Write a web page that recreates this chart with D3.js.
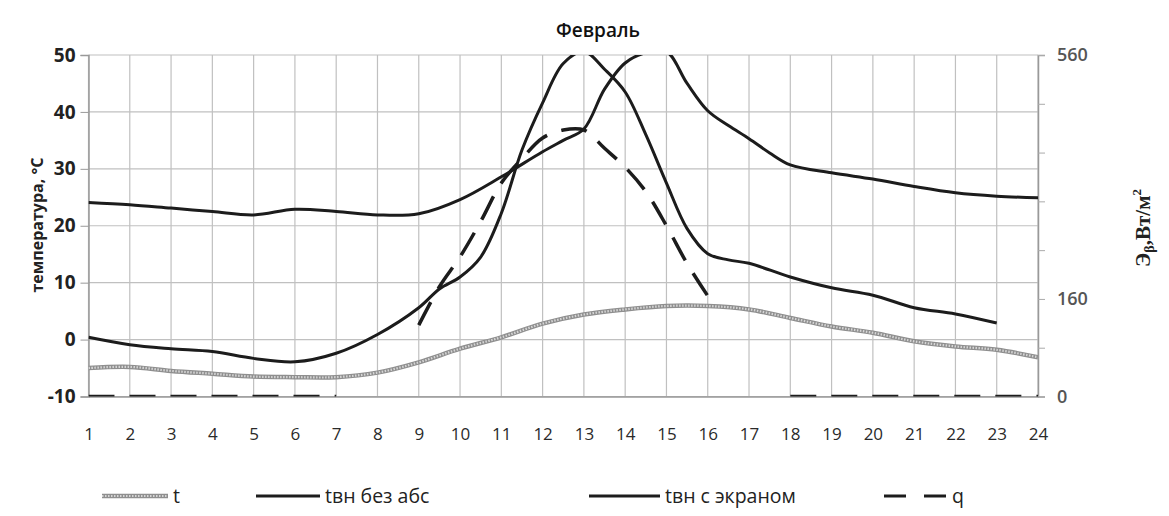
<!DOCTYPE html>
<html>
<head>
<meta charset="utf-8">
<script src="https://cdn.jsdelivr.net/npm/d3@7/dist/d3.min.js"></script>
<style>
  body { margin: 0; background: #fff; }
  svg { display: block; }
</style>
</head>
<body>
<script>
// hours of the day (x axis)
var hours = d3.range(1, 25);
var tempTicks = [-10, 0, 10, 20, 30, 40, 50];
var qTicks = [0, 80, 160, 240, 320, 400, 480, 560];
var qTickLabels = [0, 160, 560];

// outdoor temperature t, one value per hour
var tValues = [-5.0, -4.8, -5.5, -6.0, -6.5, -6.6, -6.6, -5.8, -4.0, -1.6, 0.4, 2.8,
               4.4, 5.3, 5.9, 5.9, 5.3, 3.8, 2.3, 1.2, -0.3, -1.2, -1.8, -3.1];

// tвн без абс (read at half hours where the curve is steep)
var bezAbsHours  = [1, 2, 3, 4, 5, 6, 7, 8, 9, 9.5, 10, 10.5, 11, 11.5, 12, 12.5, 13, 13.5,
                    14, 14.5, 15, 15.5, 16, 16.5, 17, 18, 19, 20, 21, 22, 23];
var bezAbsValues = [0.4, -0.9, -1.6, -2.1, -3.3, -3.9, -2.4, 0.9, 5.6, 8.9, 11.0, 14.5, 22.2, 33.3,
                    41.6, 48.5, 50.6, 47.5, 43.5, 36.0, 27.5, 19.5, 15.1, 14.0, 13.4, 11.0, 9.1,
                    7.8, 5.6, 4.5, 2.9];

// tвн с экраном
var ekranHours  = [1, 2, 3, 4, 5, 6, 7, 8, 9, 10, 11, 12, 12.5, 13, 13.5, 14, 14.5, 15, 15.5,
                   16, 16.5, 17, 17.5, 18, 19, 20, 21, 22, 23, 24];
var ekranValues = [24.1, 23.7, 23.1, 22.5, 21.9, 22.9, 22.5, 21.9, 22.1, 24.6, 28.6, 33.0, 35.0,
                   37.0, 44.0, 48.6, 50.4, 50.6, 45.0, 40.2, 37.6, 35.3, 32.8, 30.7, 29.3, 28.2,
                   26.9, 25.8, 25.2, 24.9];

// q, W/m2 (right axis); null = no data
var qHours  = [1, 2, 3, 4, 5, 6, 7, 8, 9, 9.5, 10, 10.5, 11, 11.5, 12, 12.5, 13, 13.5, 14,
               14.5, 15, 15.5, 16, 17, 18, 19, 20, 21, 22, 23, 24];
var qValues = [0, 0, 0, 0, 0, 0, 0, null, 117, 180, 229, 287, 350, 390, 424, 437, 437, 407, 376,
               336, 280, 218, 165, null, 0, 0, 0, 0, 0, 0, 0];

var margin = {top: 55, left: 88.5},
    width = 1038 - margin.left,
    height = 396.5 - margin.top;

var svg = d3.select("body").append("svg")
    .attr("width", 1169)
    .attr("height", 516);

var g = svg.append("g")
    .attr("transform", "translate(" + margin.left + "," + margin.top + ")");

var x = d3.scaleLinear().domain([1, 24]).range([0, width]);
var y = d3.scaleLinear().domain([-10, 50]).range([height, 0]);
var yq = d3.scaleLinear().domain([0, 560]).range([height, 0]);

var font = "'Open Sans', 'Noto Sans', sans-serif";

// grid
g.append("g")
    .selectAll("line.h")
    .data(tempTicks)
    .join("line")
    .attr("x1", 0).attr("x2", width)
    .attr("y1", function(d) { return y(d); })
    .attr("y2", function(d) { return y(d); })
    .attr("stroke", "#c0c0c0").attr("stroke-width", 1.2);

g.append("g")
    .selectAll("line.v")
    .data(hours)
    .join("line")
    .attr("x1", function(d) { return x(d); })
    .attr("x2", function(d) { return x(d); })
    .attr("y1", 0).attr("y2", height)
    .attr("stroke", "#c0c0c0").attr("stroke-width", 1.2);

// left axis
var yAxis = g.append("g")
    .call(d3.axisLeft(y).tickValues(tempTicks).tickSize(8).tickPadding(5)
        .tickFormat(function(d) { return String(d); }));
yAxis.select(".domain").attr("stroke", "#999").attr("stroke-width", 1.5);
yAxis.selectAll(".tick line").attr("stroke", "#999");
yAxis.selectAll("text")
    .attr("font-family", font).attr("font-size", 19).attr("font-weight", 700).attr("fill", "#222");

// right axis
var qAxis = g.append("g")
    .attr("transform", "translate(" + width + ",0)")
    .call(d3.axisRight(yq).tickValues(qTicks).tickSize(7).tickPadding(12)
        .tickFormat(function(d) { return qTickLabels.indexOf(d) >= 0 ? d : ""; }));
qAxis.select(".domain").attr("stroke", "#999").attr("stroke-width", 1.5);
qAxis.selectAll(".tick line").attr("stroke", "#aaa");
qAxis.selectAll("text")
    .attr("font-family", font).attr("font-size", 18).attr("font-weight", 600).attr("fill", "#555");

// bottom axis
var xAxis = g.append("g")
    .attr("transform", "translate(0," + height + ")")
    .call(d3.axisBottom(x).tickValues(hours).tickSize(0).tickPadding(31)
        .tickFormat(function(d) { return String(d); }));
xAxis.select(".domain").attr("stroke", "#999").attr("stroke-width", 1.5);
xAxis.selectAll("text")
    .attr("font-family", font).attr("font-size", 17).attr("fill", "#2a2a2a");

// clip for curves running over 50
svg.append("clipPath").attr("id", "plot")
    .append("rect").attr("x", 0).attr("y", 0).attr("width", width).attr("height", height);

var plot = g.append("g").attr("clip-path", "url(#plot)");

var curve = d3.curveCatmullRom.alpha(0.5);

var line = d3.line()
    .defined(function(d) { return d[1] != null; })
    .x(function(d) { return x(d[0]); })
    .y(function(d) { return y(d[1]); })
    .curve(curve);

var qLine = d3.line()
    .defined(function(d) { return d[1] != null; })
    .x(function(d) { return x(d[0]); })
    .y(function(d) { return yq(d[1]); })
    .curve(curve);

var tData = hours.map(function(h, i) { return [h, tValues[i]]; });
var bezAbsData = bezAbsHours.map(function(h, i) { return [h, bezAbsValues[i]]; });
var ekranData = ekranHours.map(function(h, i) { return [h, ekranValues[i]]; });
var qData = qHours.map(function(h, i) { return [h, qValues[i]]; });

// t: grey hatched line
plot.append("path").datum(tData)
    .attr("d", line).attr("fill", "none")
    .attr("stroke", "#8f8f8f").attr("stroke-width", 4.5);
plot.append("path").datum(tData)
    .attr("d", line).attr("fill", "none")
    .attr("stroke", "#d6d6d6").attr("stroke-width", 2.2)
    .attr("stroke-dasharray", "1.5,1.5");

plot.append("path").datum(bezAbsData)
    .attr("d", line).attr("fill", "none")
    .attr("stroke", "#1c1c1c").attr("stroke-width", 3);

plot.append("path").datum(ekranData)
    .attr("d", line).attr("fill", "none")
    .attr("stroke", "#1c1c1c").attr("stroke-width", 3);

plot.append("path").datum(qData)
    .attr("d", qLine).attr("fill", "none")
    .attr("stroke", "#1c1c1c").attr("stroke-width", 3.5)
    .attr("stroke-dasharray", "26,15");

// title
svg.append("text")
    .attr("x", 598).attr("y", 37)
    .attr("text-anchor", "middle")
    .attr("font-family", font).attr("font-size", 19).attr("font-weight", 600).attr("fill", "#111")
    .text("Февраль");

// axis titles
svg.append("text")
    .attr("transform", "translate(43,225) rotate(-90)")
    .attr("text-anchor", "middle")
    .attr("font-family", font).attr("font-size", 16).attr("font-weight", 700).attr("fill", "#222")
    .text("температура, °C");

var qTitle = svg.append("text")
    .attr("transform", "translate(1150,228) rotate(-90)")
    .attr("text-anchor", "middle")
    .attr("font-family", "'Liberation Serif', 'DejaVu Serif', serif")
    .attr("font-size", 21).attr("font-weight", 700).attr("fill", "#222");
qTitle.append("tspan").text("Э");
qTitle.append("tspan").attr("font-size", 14).attr("dy", 4).text("β");
qTitle.append("tspan").attr("dy", -4).text(",Вт/м");
qTitle.append("tspan").attr("font-size", 13).attr("dy", -9).text("2");

// legend
var legend = [
  {name: "t", x1: 102, x2: 168, type: "t"},
  {name: "tвн без абс", x1: 256, x2: 320, type: "solid"},
  {name: "tвн с экраном", x1: 589, x2: 660, type: "solid"},
  {name: "q", x1: 884, x2: 947, type: "dash"}
];
var ly = 496;
legend.forEach(function(d) {
  if (d.type === "t") {
    svg.append("line").attr("x1", d.x1).attr("x2", d.x2).attr("y1", ly).attr("y2", ly)
        .attr("stroke", "#8f8f8f").attr("stroke-width", 4.5);
    svg.append("line").attr("x1", d.x1).attr("x2", d.x2).attr("y1", ly).attr("y2", ly)
        .attr("stroke", "#d6d6d6").attr("stroke-width", 2.2).attr("stroke-dasharray", "1.5,1.5");
  } else {
    svg.append("line").attr("x1", d.x1).attr("x2", d.x2).attr("y1", ly).attr("y2", ly)
        .attr("stroke", "#1c1c1c").attr("stroke-width", 3)
        .attr("stroke-dasharray", d.type === "dash" ? "22,18" : null);
  }
  svg.append("text")
      .attr("x", d.x2 + 5).attr("y", ly + 7)
      .attr("font-family", font).attr("font-size", 19.5).attr("fill", "#222")
      .text(d.name);
});
</script>
</body>
</html>
